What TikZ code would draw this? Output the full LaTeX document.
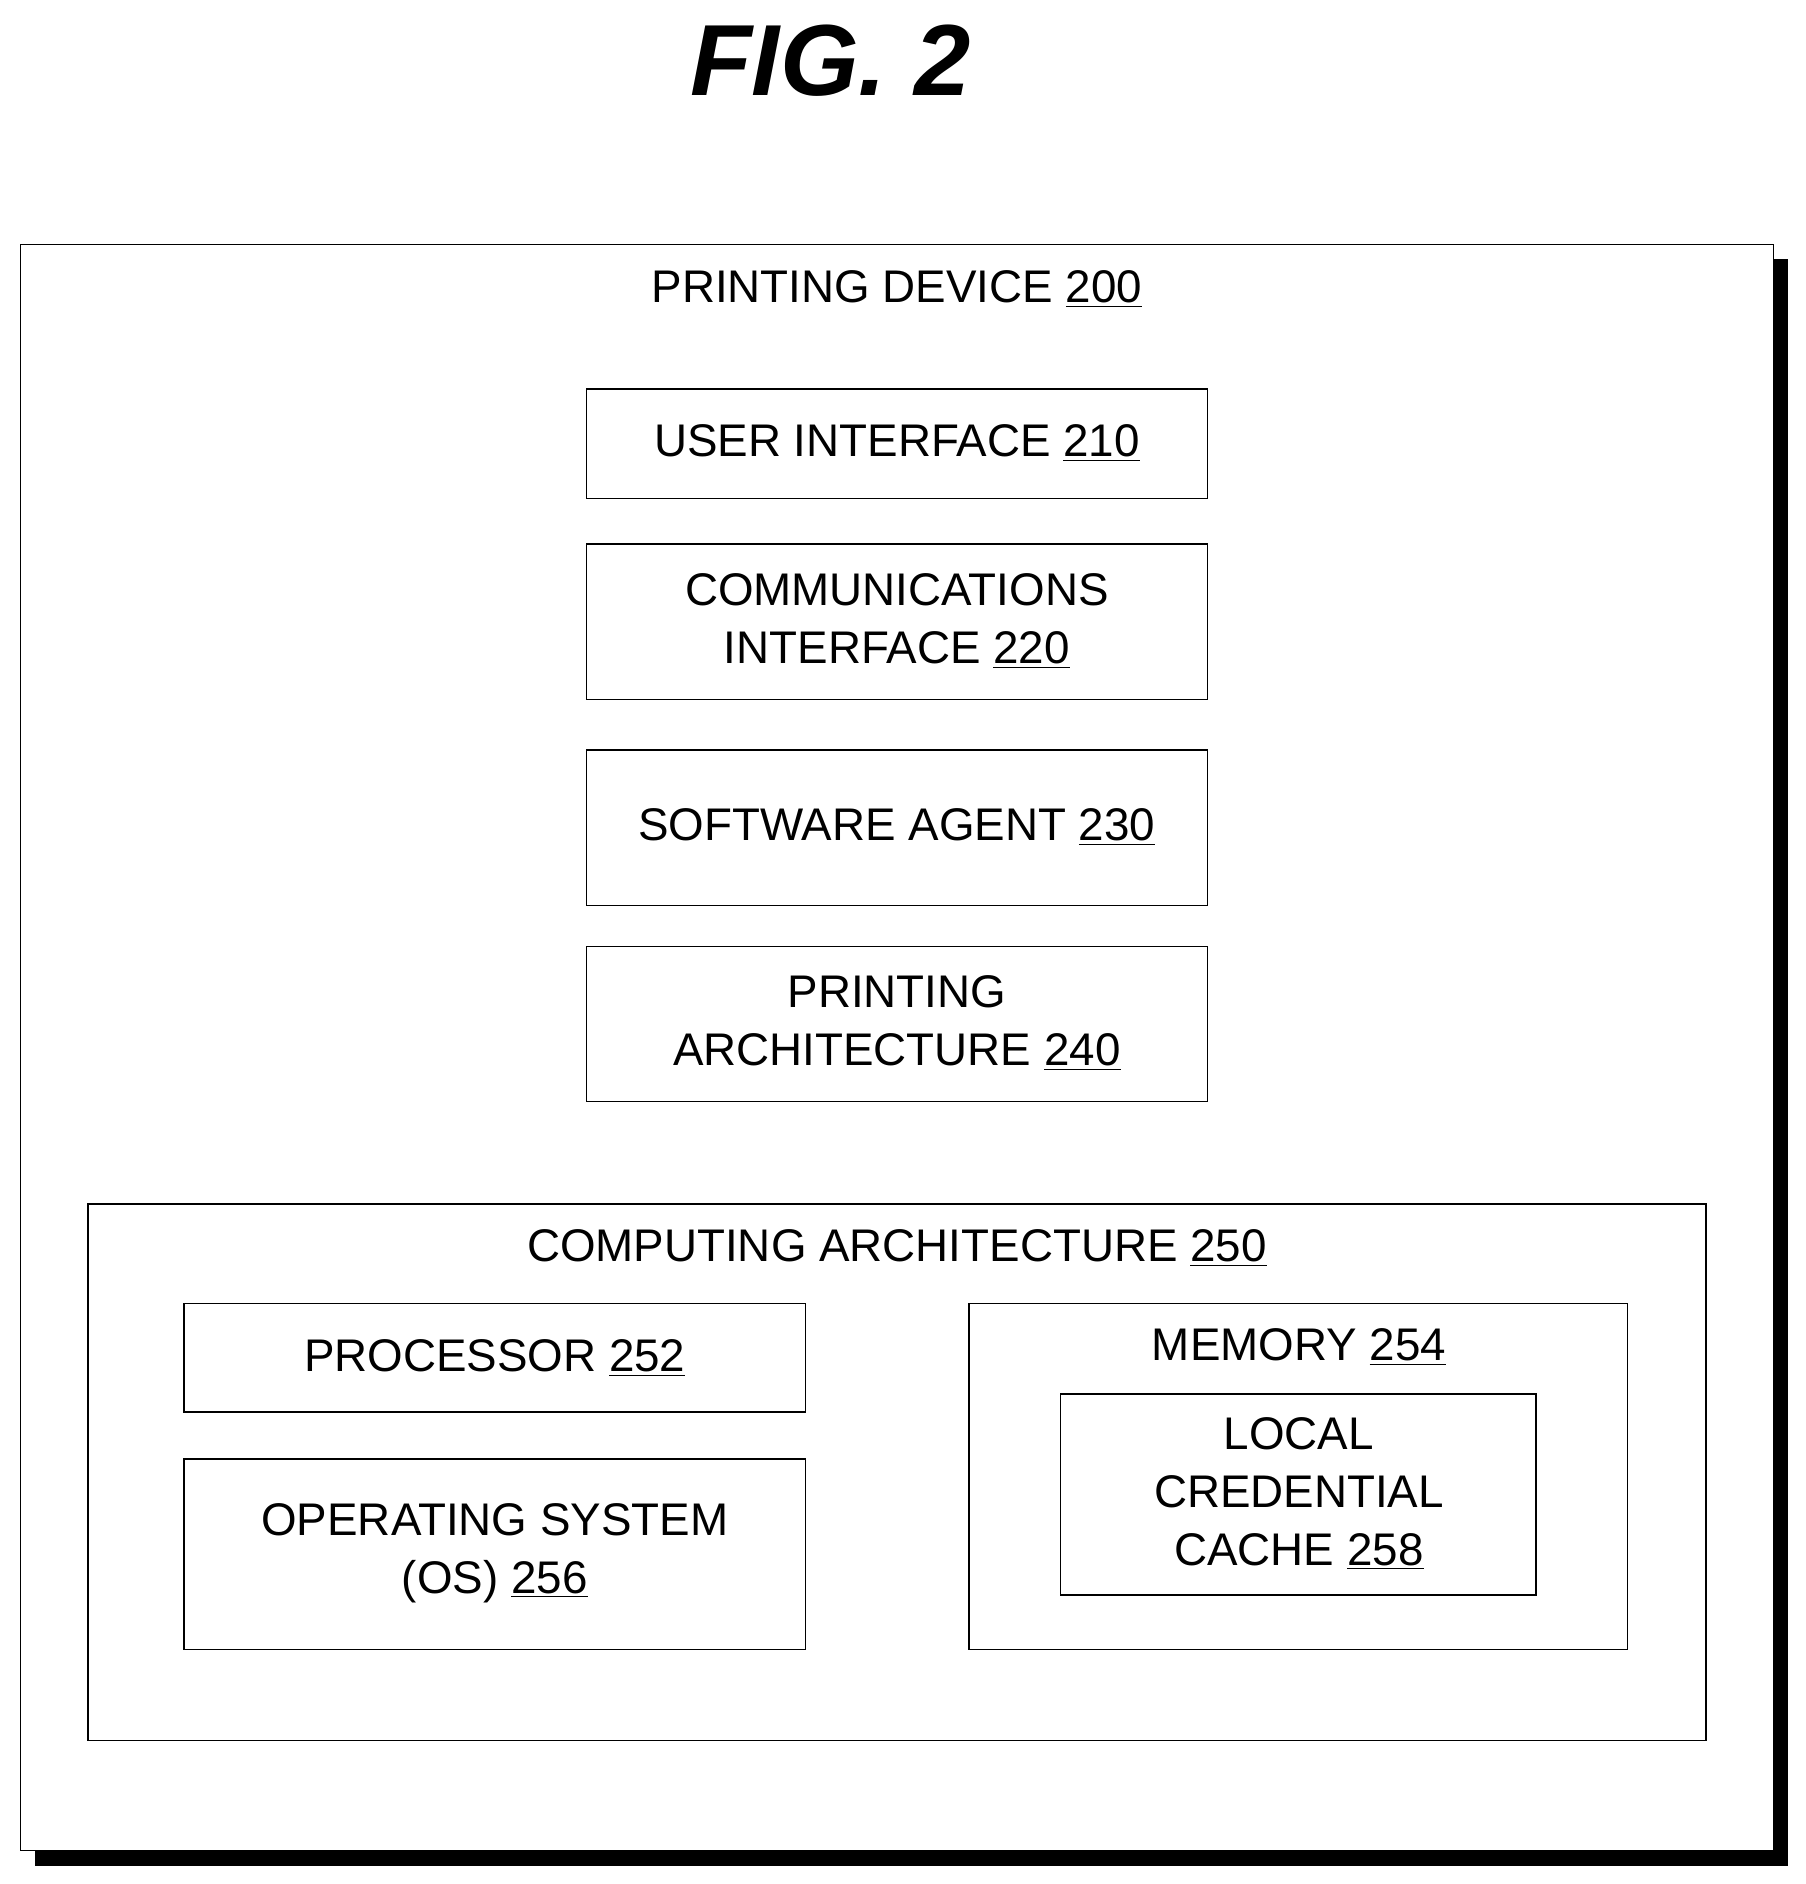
\documentclass[tikz,border=0pt]{standalone}
\usepackage{fontspec}
\setmainfont{Liberation Sans}
\begin{document}
\begin{tikzpicture}[x=0.5pt,y=-0.5pt,
  box/.style={draw=black,line width=0.6pt,fill=white},
  lbl/.style={font=\fontsize{19}{24}\selectfont,align=center,inner sep=0pt}]
\useasboundingbox (0,0) rectangle (1500,1565);
% outer with shadow
\fill[black] (29,215) rectangle (1485,1550);
\draw[box] (17,203) rectangle (1473,1537);
\node[font=\fontsize{42}{46}\selectfont\bfseries\itshape] (title) at (690,50) {FIG. 2};
\node[lbl] (pd) at (745,240) {PRINTING DEVICE \underline{200}};
\draw[box] (487,323) rectangle (1003,414);
\node[lbl] (ui) at (745,368) {USER INTERFACE \underline{210}};
\draw[box] (487,452) rectangle (1003,581);
\node[lbl] (ci) at (745,516) {COMMUNICATIONS\\INTERFACE \underline{220}};
\draw[box] (487,623) rectangle (1003,752);
\node[lbl] (sa) at (745,687) {SOFTWARE AGENT \underline{230}};
\draw[box] (487,786) rectangle (1003,915);
\node[lbl] (pa) at (745,850) {PRINTING\\ARCHITECTURE \underline{240}};
\draw[box] (73,1000) rectangle (1417,1446);
\node[lbl] (ca) at (745,1037) {COMPUTING ARCHITECTURE \underline{250}};
\draw[box] (153,1083) rectangle (669,1173);
\node[lbl] (pr) at (411,1128) {PROCESSOR \underline{252}};
\draw[box] (153,1212) rectangle (669,1370);
\node[lbl] (os) at (411,1290) {OPERATING SYSTEM\\(OS) \underline{256}};
\draw[box] (805,1083) rectangle (1352,1370);
\node[lbl] (mem) at (1079,1119) {MEMORY \underline{254}};
\draw[box] (881,1158) rectangle (1276,1325);
\node[lbl] (lc) at (1079,1241) {LOCAL\\CREDENTIAL\\CACHE \underline{258}};
\end{tikzpicture}
\end{document}
